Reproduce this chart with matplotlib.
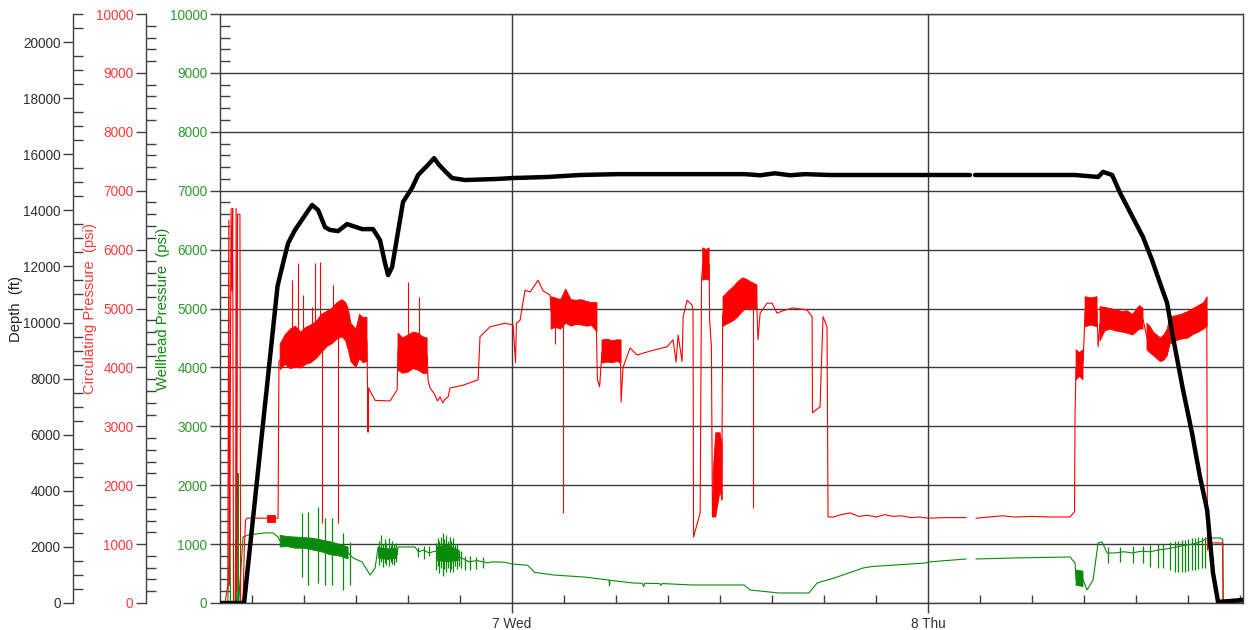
import numpy as np
import matplotlib
matplotlib.use('Agg')
import matplotlib.pyplot as plt
from matplotlib.ticker import MultipleLocator, FixedLocator

nan = np.nan

# ---------------- data (time in hours from day 6, 00:00) ----------------
X_MIN, X_MAX = 7.15, 66.17
DAY_TICKS = [24, 48]
DAY_LABELS = ['7 Wed', '8 Thu']

DEPTH_T = [7.15, 8.54, 10.47, 10.79, 11.08, 11.48, 11.94, 12.46, 12.81, 13.21, 13.50, 13.96,
           14.48, 15.35, 15.98, 16.38, 16.67, 16.85, 17.08, 17.37, 17.71, 18.23, 18.58, 19.15,
           19.50, 19.79, 20.13, 20.54, 21.29, 23.19, 24.00, 26.08, 27.92, 30.06, 37.44, 38.31,
           39.17, 40.04, 40.90, 42.35, 50.42, nan, 50.71, 56.48, 57.81, 58.10, 58.62, 59.08,
           59.65, 60.40, 60.92, 61.38, 61.79, 62.13, 62.71, 63.23, 63.69, 64.10, 64.44, 64.73,
           65.42, 66.17]
DEPTH_FT = [0, 0, 11300, 12120, 12830, 13300, 13720, 14190, 14010, 13400, 13300, 13260,
            13510, 13330, 13330, 12940, 12120, 11690, 11980, 13050, 14300, 14800, 15260, 15620,
            15860, 15620, 15400, 15150, 15080, 15120, 15150, 15190, 15260, 15290, 15290, 15250,
            15320, 15250, 15290, 15260, 15260, nan, 15260, 15260, 15190, 15370, 15260, 14620,
            13940, 13050, 12230, 11410, 10700, 9480, 7600, 6060, 4490, 3320, 1070, 40,
            70, 110]

CIRC_T = [7.15, 7.44, 7.60, 7.66, 7.70, 7.79, 7.84, 7.88, 7.93, 8.05, 8.08, 8.12, 8.16, 8.30,
          8.34, 8.48, 8.55, 8.62, 8.71, 9.87, 10.33, 10.50, 10.55, 11.0, 11.5, 12.0, 12.5,
          13.0, 13.5, 14.0, 14.4, 14.7, 15.0, 15.3, 15.63, 15.69, 15.72, 16.10, 16.96, 17.37,
          17.42, 18.0, 18.6, 19.10, 19.15, 19.27, 19.5, 19.7, 19.85, 20.0, 20.13, 20.31, 20.42,
          21.2, 22.04, 22.15, 22.73, 23.60, 24.06, 24.20, 24.25, 24.46, 24.75, 25.04, 25.50,
          25.79, 26.19, 26.25, 27.0, 28.0, 28.85, 28.92, 29.05, 29.19, 30.25, 30.29, 30.40,
          30.81, 31.21, 32.0, 32.94, 33.29, 33.46, 33.58, 33.81, 33.87, 34.10, 34.38, 34.44,
          34.47, 34.85, 34.93, 35.0, 35.37, 35.40, 35.50, 35.56, 35.75, 35.95, 36.10, 36.15,
          37.0, 38.10, 38.19, 38.31, 38.71, 39.00, 39.29, 39.6, 40.21, 41.02, 41.31, 41.33,
          41.77, 41.83, 41.94, 42.17, 42.23, 42.52, 43.0, 43.5, 44.0, 44.5, 45.0, 45.5, 46.0,
          46.5, 47.0, 47.5, 48.0, 49.0, 50.19, nan, 50.77, 51.5, 52.3, 53.0, 54.0, 55.0, 56.19,
          56.45, 56.48, 56.54, 56.94, 57.06, 57.75, 57.81, 57.92, 58.5, 59.2, 59.8, 60.40,
          60.63, 61.0, 61.4, 61.96, 63.0, 64.08, 64.12, 64.27, 65.00, 65.03, 66.17]
CIRC_PSI = [0, 0, 300, 6500, 300, 6700, 5300, 6700, 0, 0, 6700, 200, 6600, 6600,
            0, 0, 900, 1400, 1440, 1440, 1440, 1440, 4100, 4300, 4350, 4350, 4420,
            4580, 4700, 4820, 4780, 4420, 4330, 4500, 4450, 2900, 3650, 3440, 3430, 3620,
            4300, 4250, 4250, 4200, 3790, 3650, 3560, 3430, 3500, 3400, 3460, 3500, 3650,
            3700, 3790, 4520, 4690, 4750, 4720, 4080, 4750, 4800, 5310, 5280, 5480,
            5300, 5230, 4950, 5000, 4950, 4900, 3800, 3670, 4270, 4270, 3410, 4000,
            4330, 4210, 4280, 4350, 4470, 4090, 4550, 4100, 4860, 5140, 5060, 4975,
            1120, 1530, 5480, 5750, 5750, 4800, 4350, 1460, 2700, 2800, 1750, 4900,
            5150, 5200, 4470, 4920, 5090, 5090, 4920, 4960, 5010, 4975, 4860, 3230,
            3330, 3900, 4860, 4690, 1460, 1460, 1500, 1530, 1470, 1490, 1460, 1500, 1470,
            1480, 1450, 1460, 1440, 1450, 1450, nan, 1440, 1460, 1480, 1460, 1470, 1460, 1460,
            1550, 3230, 4000, 4050, 4950, 4950, 4350, 4750, 4820, 4780, 4720, 4820,
            4500, 4400, 4300, 4600, 4720, 4950, 900, 1020, 1020, 0, 0]

CIRC_BAND_T = [9.87, 10.33, nan,
               10.62, 10.9, 11.2, 11.5, 11.8, 12.1, 12.4, 12.7, 13.0, 13.3, 13.6, 13.9, 14.2,
               14.4, 14.55, 14.7, 14.85, 15.0, 15.2, 15.4, 15.63, nan,
               17.42, 17.7, 18.0, 18.3, 18.6, 18.85, 19.10, nan,
               26.25, 26.5, 26.8, 27.1, 27.4, 27.7, 28.0, 28.3, 28.6, 28.90, nan,
               29.19, 29.5, 29.8, 30.05, 30.29, nan,
               35.0, 35.2, 35.37, nan,
               35.60, 35.75, 36.0, 36.12, nan,
               36.17, 36.5, 36.8, 37.0, 37.3, 37.5, 37.8, 38.13, nan,
               56.54, 56.74, 56.94, nan,
               57.06, 57.4, 57.75, nan,
               57.92, 58.2, 58.5, 58.8, 59.2, 59.5, 59.8, 60.0, 60.2, 60.40, nan,
               60.63, 60.8, 61.0, 61.2, 61.4, 61.6, 61.8, 61.96, 62.3, 62.6, 63.0, 63.3,
               63.6, 63.9, 64.10]
CIRC_BAND_LO = [1380, 1380, nan,
                3960, 4050, 3980, 4000, 3990, 4050, 4080, 4150, 4250, 4350, 4400, 4480, 4520,
                4450, 4300, 4100, 4050, 4000, 4150, 4080, 4100, nan,
                3950, 3900, 3920, 3980, 3950, 3900, 3900, nan,
                4650, 4680, 4650, 4750, 4700, 4730, 4720, 4700, 4710, 4600, nan,
                4075, 4090, 4080, 4100, 4075, nan,
                5480, 5500, 5480, nan,
                1460, 1460, 1900, 1750, nan,
                4700, 4750, 4800, 4850, 4950, 5000, 4980, 5000, nan,
                3790, 3850, 3790, nan,
                4690, 4720, 4690, nan,
                4450, 4620, 4650, 4620, 4600, 4580, 4550, 4600, 4650, 4650, nan,
                4300, 4250, 4200, 4150, 4100, 4120, 4200, 4400, 4450, 4480, 4500, 4560,
                4600, 4650, 4700]
CIRC_BAND_HI = [1500, 1500, nan,
                4400, 4550, 4650, 4700, 4600, 4680, 4720, 4780, 4900, 4950, 5000, 5100, 5150,
                5100, 5000, 4750, 4700, 4650, 4900, 4850, 4850, nan,
                4580, 4500, 4550, 4600, 4580, 4520, 4500, nan,
                5200, 5180, 5150, 5330, 5150, 5140, 5150, 5120, 5100, 5100, nan,
                4466, 4480, 4450, 4470, 4466, nan,
                6030, 6000, 6030, nan,
                2200, 2890, 2890, 2700, nan,
                5200, 5300, 5380, 5450, 5520, 5500, 5450, 5400, nan,
                4300, 4250, 4300, nan,
                5200, 5180, 5200, nan,
                5030, 5020, 5000, 4980, 4950, 4960, 4900, 4980, 5050, 5000, nan,
                4750, 4700, 4600, 4550, 4500, 4550, 4650, 4850, 4880, 4900, 4950, 5000,
                5050, 5100, 5200]

CIRC_SPIKE_T = [11.31, 11.65, 11.94, 12.46, 12.63, 12.92, 13.67, 13.04, 13.96, 18.00, 18.63,
                26.48, 26.94, 37.90]
CIRC_SPIKE_LO = [4100, 4300, 4200, 4300, 4300, 4300, 4600, 1360, 1360, 4100, 4100,
                 4400, 1530, 1610]
CIRC_SPIKE_HI = [5480, 5770, 5230, 5030, 5770, 5790, 5400, 4300, 4500, 5450, 5200,
                 4800, 4800, 5000]

WELL_T = [7.15, 7.60, 7.66, 7.70, 7.75, 8.02, 8.05, 8.10, 8.17, 8.19, 8.23, 8.48, 8.77,
          9.75, 10.21, 10.50, 10.62, 11.5, 12.5, 13.5, 14.54, 14.83, 15.35, 15.81,
          16.10, 16.27, 16.8, 17.37, 17.42, 18.40, 18.6, 18.9, 19.2, 19.56, 20.3, 21.12, 21.5,
          22.0, 22.62, 22.85, 23.60, 24.00, 24.90, 25.30, 26.40, 28.15, 29.60, 29.62, 29.65,
          30.98, 31.5, 31.6, 31.65, 32.5, 32.6, 32.65, 33.17, 34.44, 37.38, 37.73, 39.40,
          41.13, 41.60, 42.58, 44.25, 44.77, 47.88, 48.00, 50.19, nan, 50.77, 53.0, 56.19,
          56.48, 56.54, 56.94, 57.17, 57.52, 57.81, 58.04, 58.33, 58.8, 59.3, 59.8, 60.3,
          60.8, 61.3, 61.8, 62.3, 62.8, 63.3, 63.8, 64.10, 64.27, 64.85, 65.00, 65.02, 66.17]
WELL_PSI = [0, 0, 700, 2550, 0, 0, 1050, 0, 0, 2200, 0, 1120, 1155,
            1190, 1190, 1120, 1050, 1020, 1000, 930, 850, 764, 696, 475,
            594, 951, 850, 820, 951, 951, 870, 900, 850, 880, 820, 760, 700,
            720, 680, 700, 690, 662, 640, 520, 475, 441, 390, 290, 385,
            340, 335, 280, 335, 330, 300, 330, 323, 306, 306, 221, 170,
            170, 340, 424, 594, 620, 679, 696, 747, nan, 747, 765, 781,
            680, 400, 400, 221, 390, 1019, 1036, 849, 850, 870, 850, 880,
            870, 900, 920, 950, 980, 1000, 1050, 1100, 1104, 1104, 1080, 0, 0]

WELL_BAND_T = [10.62, 11.0, 11.5, 12.0, 12.5, 13.0, 13.5, 14.0, 14.54, nan,
               16.30, 16.8, 17.35, nan, 19.70, 20.3, 20.9, nan, 56.54, 56.94]
WELL_BAND_LO = [950, 960, 930, 930, 900, 870, 820, 800, 750, nan,
                760, 740, 760, nan, 720, 700, 720, nan, 300, 280]
WELL_BAND_HI = [1150, 1130, 1120, 1110, 1100, 1070, 1040, 1000, 950, nan,
                940, 920, 930, nan, 960, 980, 900, nan, 560, 540]

WELL_SPIKE_T = [11.88, 12.23, 12.81, 13.21, 13.62, 14.25, 14.65,
                16.35, 16.45, 16.55, 16.65, 16.75, 16.9, 17.0, 17.1, 17.2, 17.3,
                18.6, 18.9, 19.2,
                19.6, 19.7, 19.8, 19.9, 20.0, 20.1, 20.2, 20.3, 20.4, 20.5, 20.6, 20.7, 20.8,
                20.95, 21.05,
                21.3, 21.6, 21.9, 22.3, 58.40, 59.08, 59.85, 60.42, 60.81, 61.29,
                61.58, 61.96, 62.25, 62.44, 62.63, 62.83, 63.02, 63.21, 63.40, 63.60, 63.79, 63.98]
WELL_SPIKE_LO = [440, 306, 340, 306, 306, 221, 306,
                 640, 700, 611, 680, 650, 620, 700, 660, 640, 700,
                 780, 750, 800,
                 560, 620, 510, 600, 450, 580, 520, 600, 530, 580, 520, 620, 580,
                 620, 600,
                 560, 560, 580, 600, 679, 700, 679, 679, 611, 600,
                 600, 560, 526, 526, 526, 526, 545, 560, 560, 580, 600, 600]
WELL_SPIKE_HI = [1530, 1545, 1630, 1443, 1443, 1189, 1036,
                 1050, 1155, 1000, 1080, 1019, 1100, 980, 1050, 1000, 1019,
                 950, 960, 960,
                 1020, 1100, 1050, 1120, 1190, 1080, 1150, 1060, 1120, 1050, 1100, 980, 1000,
                 900, 880,
                 790, 800, 780, 780, 951, 951, 960, 960, 980, 1000,
                 1000, 1030, 1050, 1050, 1070, 1070, 1090, 1100, 1100, 1120, 1120, 1120]

# ---------------- styling ----------------
plt.rcParams['font.family'] = ['Liberation Sans', 'DejaVu Sans']
plt.rcParams['font.size'] = 9.8

RED = '#ff0000'
GREEN = '#0a8a0a'
RED_TXT = '#ff3b3b'
GREEN_TXT = '#2f9a2f'
AXC = '#404040'
LABEL_SIZE = 10.6

W, H = 1252, 630
L, R, T, B = 220, 1243, 14, 603
fig = plt.figure(figsize=(W / 100, H / 100), dpi=100)
ax = fig.add_axes([L / W, 1 - B / H, (R - L) / W, (B - T) / H])
ax_c = ax.twinx()
ax_d = ax.twinx()

# wellhead (green) on main axis
ax.plot(WELL_T, WELL_PSI, color=GREEN, lw=0.8, zorder=3)
ax.fill_between(WELL_BAND_T, WELL_BAND_LO, WELL_BAND_HI, color=GREEN, lw=0.6, zorder=3)
ax.vlines(WELL_SPIKE_T, WELL_SPIKE_LO, WELL_SPIKE_HI, color=GREEN, lw=0.9, zorder=3)

# circulating (red)
ax_c.plot(CIRC_T, CIRC_PSI, color=RED, lw=0.8)
ax_c.fill_between(CIRC_BAND_T, CIRC_BAND_LO, CIRC_BAND_HI, color=RED, lw=0.6)
ax_c.vlines(CIRC_SPIKE_T, CIRC_SPIKE_LO, CIRC_SPIKE_HI, color=RED, lw=0.8)

# depth (black)
ax_d.plot(DEPTH_T, DEPTH_FT, color='black', lw=3.2, solid_capstyle='round',
          solid_joinstyle='round')

ax.set_xlim(X_MIN, X_MAX)
ax.set_ylim(0, 10000)
ax_c.set_ylim(0, 10000)
ax_d.set_ylim(0, 21000)

# x axis
ax.xaxis.set_major_locator(FixedLocator(DAY_TICKS))
ax.set_xticklabels(DAY_LABELS)
ax.xaxis.set_minor_locator(MultipleLocator(3))
ax.tick_params(axis='x', which='major', direction='out', length=7, width=1, color=AXC,
               labelcolor='#303030', pad=3)
ax.tick_params(axis='x', which='minor', direction='in', length=6, width=1, color=AXC)

ax.grid(True, which='major', color='#3a3a3a', lw=1.0)
ax.set_axisbelow(True)
for s in ax.spines.values():
    s.set_color(AXC)
    s.set_linewidth(1.0)

# main (wellhead) y axis
ax.yaxis.set_major_locator(MultipleLocator(1000))
ax.yaxis.set_minor_locator(MultipleLocator(200))
ax.tick_params(axis='y', which='major', direction='out', length=7, width=1, color=AXC,
               labelcolor=GREEN_TXT, pad=2)
ax.tick_params(axis='y', which='minor', direction='in', length=7, width=1, color=AXC)
ax.set_ylabel('Wellhead Pressure  (psi)', color=GREEN, fontsize=LABEL_SIZE)
ax.yaxis.set_label_coords((170 - L) / (R - L), 0.5)


def setup_left(a, x_px, major, minor, lcolor, label, label_color, label_px):
    for k in ('right', 'top', 'bottom'):
        a.spines[k].set_visible(False)
    a.spines['left'].set_visible(True)
    a.spines['left'].set_position(('axes', (x_px - L) / (R - L)))
    a.spines['left'].set_color(AXC)
    a.spines['left'].set_linewidth(1.0)
    a.yaxis.set_ticks_position('left')
    a.yaxis.set_label_position('left')
    a.yaxis.set_major_locator(MultipleLocator(major))
    a.yaxis.set_minor_locator(MultipleLocator(minor))
    a.tick_params(axis='y', which='major', direction='out', length=7, width=1, color=AXC,
                  labelcolor=lcolor, pad=2)
    a.tick_params(axis='y', which='minor', direction='in', length=7, width=1, color=AXC)
    a.set_ylabel(label, color=label_color, fontsize=LABEL_SIZE)
    a.yaxis.set_label_coords((label_px - L) / (R - L), 0.5)


setup_left(ax_c, 146, 1000, 200, RED_TXT, 'Circulating Pressure  (psi)', RED_TXT, 97)
setup_left(ax_d, 73, 2000, 500, '#303030', 'Depth  (ft)', '#202020', 23)

fig.savefig('out.png', dpi=100)
